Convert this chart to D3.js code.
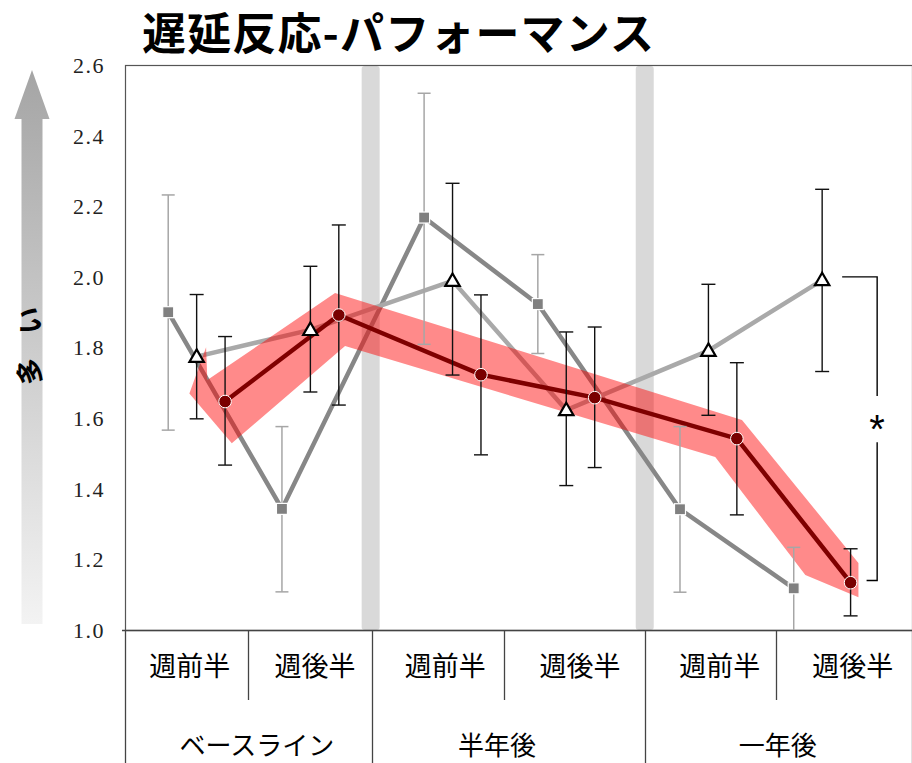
<!DOCTYPE html>
<html><head><meta charset="utf-8">
<script src="https://cdn.jsdelivr.net/npm/d3@7"></script>
<style>
html,body{margin:0;padding:0;background:#fff;}
svg{display:block;}
</style></head>
<body>
<svg id="chart" width="912" height="763"></svg>
<script>
// ---- data ----
const title = '遅延反応-パフォーマンス';
const arrowLabel = '多い';
const xIdx = [0, 1, 2.25, 3.25, 4.5, 5.5];
const subLabels = ['週前半', '週後半', '週前半', '週後半', '週前半', '週後半'];
const subLabelIdx = [-0.06, 1.04, 2.185, 3.37, 4.6, 5.77];
const groupLabels = ['ベースライン', '半年後', '一年後'];
const groupLabelIdx = [0.53, 2.64, 5.11];
const groupDividers = [-0.63, 1.545, 3.94, 6.29];
const subDividers = [0.455, 2.705, 5.09];
const separatorIdx = [1.53, 3.94];
const yTicks = [1.0, 1.2, 1.4, 1.6, 1.8, 2.0, 2.2, 2.4, 2.6];

const squareVals = [1.900, 1.343, 2.168, 1.923, 1.342, 1.118];
const squareHi   = [2.232, 1.576, 2.520, 2.063, 1.576, 1.234];
const squareLo   = [1.566, 1.108, 1.809, 1.783, 1.107, 1.000];

const triVals = [1.774, 1.850, 1.989, 1.623, 1.791, 1.991];
const triHi   = [1.950, 2.030, 2.265, 1.844, 1.979, 2.248];
const triLo   = [1.598, 1.674, 1.722, 1.409, 1.608, 1.732];

const circVals = [1.647, 1.892, 1.723, 1.658, 1.542, 1.134];
const circHi   = [1.831, 2.147, 1.949, 1.858, 1.757, 1.230];
const circLo   = [1.467, 1.637, 1.496, 1.460, 1.326, 1.040];

// highlight band outline (index, value)
const bandIdx  = [0.083, 0.094, 1.217, 4.795, 5.819, 5.819, 5.352, 4.560, 1.305, 0.309, -0.064];
const bandVals = [1.801, 1.708, 1.954, 1.595, 1.190, 1.093, 1.156, 1.490, 1.804, 1.529, 1.670];

// significance bracket between triangle and circle at last point
const sigTop = 2.0, sigBottom = 1.14, sigGapTop = 1.663, sigGapBottom = 1.532, sigLabel = '*';

// ---- layout ----
const svg = d3.select('#chart');
const L = 125, R = 912, T = 65, B = 630;
const x = d3.scaleLinear().domain([-0.63, 6.29]).range([L, R]);
const y = d3.scaleLinear().domain([1.0, 2.6]).range([B, T]);
const off = 0.25;

// title
svg.append('text').attr('x', 142).attr('y', 50)
  .attr('font-family', '"Noto Sans CJK JP", sans-serif').attr('font-weight', 'bold')
  .attr('font-size', 44).attr('textLength', 512).attr('lengthAdjust', 'spacing')
  .attr('fill', '#000').text(title);

// arrow gradient
const defs = svg.append('defs');
const grad = defs.append('linearGradient').attr('id', 'ag').attr('x1', 0).attr('y1', 0).attr('x2', 0).attr('y2', 1);
grad.append('stop').attr('offset', '0%').attr('stop-color', '#a5a5a5');
grad.append('stop').attr('offset', '100%').attr('stop-color', '#f3f3f3');
const ax = 32;
svg.append('path')
  .attr('d', `M${ax},70 L${ax+17.5},119 L${ax+10.5},119 L${ax+10.5},624 L${ax-10.5},624 L${ax-10.5},119 L${ax-17.5},119 Z`)
  .attr('fill', 'url(#ag)');
svg.append('text').attr('transform', 'translate(28,346) rotate(-90)')
  .attr('text-anchor', 'middle').attr('dominant-baseline', 'central')
  .attr('font-family', '"Noto Sans CJK JP", sans-serif').attr('font-weight', 'bold')
  .attr('font-size', 27).attr('textLength', 78).attr('lengthAdjust', 'spacing')
  .text(arrowLabel);

// y tick labels
svg.append('g').selectAll('text').data(yTicks).join('text')
  .attr('x', 105).attr('y', d => y(d)).attr('dy', '0.36em')
  .attr('text-anchor', 'end')
  .attr('font-family', '"Liberation Serif", "DejaVu Serif", serif')
  .attr('font-size', 22).attr('letter-spacing', 1.5).attr('fill', '#222')
  .text(d => d.toFixed(1));

// separators (gray vertical bands)
svg.append('g').selectAll('rect').data(separatorIdx).join('rect')
  .attr('x', d => x(d) - 9).attr('y', T + 1).attr('width', 18).attr('height', B - T - 1)
  .attr('rx', 3).attr('fill', '#d9d9d9');

// plot box
svg.append('rect').attr('x', L + 0.5).attr('y', T + 0.5).attr('width', R - L).attr('height', B - T)
  .attr('fill', 'none').attr('stroke', '#555').attr('stroke-width', 1.2);

// category axis
const cat = svg.append('g').attr('stroke', '#444').attr('stroke-width', 1.3);
cat.append('line').attr('x1', L - 3).attr('x2', R).attr('y1', B + 0.5).attr('y2', B + 0.5);
cat.selectAll('line.gd').data(groupDividers).join('line').attr('class', 'gd')
  .attr('x1', d => Math.round(x(d)) + 0.5).attr('x2', d => Math.round(x(d)) + 0.5)
  .attr('y1', B).attr('y2', 763);
cat.selectAll('line.sd').data(subDividers).join('line').attr('class', 'sd')
  .attr('x1', d => Math.round(x(d)) + 0.5).attr('x2', d => Math.round(x(d)) + 0.5)
  .attr('y1', B).attr('y2', 700);

svg.append('g').selectAll('text').data(subLabels).join('text')
  .attr('x', (d, i) => x(subLabelIdx[i])).attr('y', 664).attr('dominant-baseline', 'central')
  .attr('text-anchor', 'middle').attr('font-family', '"Noto Sans CJK JP", sans-serif')
  .attr('font-size', 27).attr('fill', '#000').text(d => d);
svg.append('g').selectAll('text').data(groupLabels).join('text')
  .attr('x', (d, i) => x(groupLabelIdx[i])).attr('y', 743).attr('dominant-baseline', 'central')
  .attr('text-anchor', 'middle').attr('font-family', '"Noto Sans CJK JP", sans-serif')
  .attr('font-size', 26).attr('fill', '#000').text(d => d);

// series lines
const line = d3.line().x(d => x(d[0])).y(d => y(d[1]));
const sqPts = squareVals.map((v, i) => [xIdx[i] - off, v]);
const trPts = triVals.map((v, i) => [xIdx[i], v]);
const ciPts = circVals.map((v, i) => [xIdx[i] + off, v]);

svg.append('path').attr('d', line(sqPts)).attr('fill', 'none')
  .attr('stroke', '#878787').attr('stroke-width', 4.5);
svg.append('path').attr('d', line(trPts)).attr('fill', 'none')
  .attr('stroke', '#a9a9a9').attr('stroke-width', 4.5);

// highlight band
svg.append('path').attr('d', line(bandIdx.map((v, i) => [v, bandVals[i]])) + 'Z')
  .attr('fill', '#ff0000').attr('fill-opacity', 0.46).attr('stroke', 'none');

svg.append('path').attr('d', line(ciPts)).attr('fill', 'none')
  .attr('stroke', '#7f0000').attr('stroke-width', 4.5);

// error bars
function errBars(pts, hi, lo, color, w, cap) {
  const g = svg.append('g').attr('stroke', color).attr('stroke-width', w).attr('fill', 'none');
  pts.forEach((p, i) => {
    const cx = x(p[0]);
    g.append('line').attr('x1', cx).attr('x2', cx).attr('y1', y(hi[i])).attr('y2', y(lo[i]));
    [hi[i], lo[i]].forEach(v => {
      if (v > 1.0) g.append('line').attr('x1', cx - cap).attr('x2', cx + cap).attr('y1', y(v)).attr('y2', y(v));
    });
  });
}
errBars(sqPts, squareHi, squareLo, '#a6a6a6', 1.5, 6.5);
errBars(trPts, triHi, triLo, '#111', 1.4, 7);
errBars(ciPts, circHi, circLo, '#111', 1.4, 7);

// markers
svg.append('g').selectAll('rect').data(sqPts).join('rect')
  .attr('x', d => x(d[0]) - 5.5).attr('y', d => y(d[1]) - 5.5).attr('width', 11).attr('height', 11)
  .attr('fill', '#808080').attr('stroke', '#fff').attr('stroke-width', 1.2);
const tri = d3.symbol().type(d3.symbolTriangle).size(90);
svg.append('g').selectAll('path').data(trPts).join('path')
  .attr('transform', d => `translate(${x(d[0])},${y(d[1]) + 1})`)
  .attr('d', tri).attr('fill', '#fff').attr('stroke', '#000').attr('stroke-width', 2.2);
svg.append('g').selectAll('circle').data(ciPts).join('circle')
  .attr('cx', d => x(d[0])).attr('cy', d => y(d[1])).attr('r', 6.3)
  .attr('fill', '#7a0000').attr('stroke', '#fff').attr('stroke-width', 1);

// significance bracket
const bx = x(xIdx[5]) + 55;
const sg = svg.append('g').attr('stroke', '#000').attr('stroke-width', 1.4).attr('fill', 'none');
sg.append('path').attr('d', `M${x(xIdx[5]) + 20},${y(sigTop)} H${bx} V${y(sigGapTop)}`);
sg.append('path').attr('d', `M${x(xIdx[5] + off) + 16},${y(sigBottom)} H${bx} V${y(sigGapBottom)}`);
svg.append('text').attr('x', bx).attr('y', (y(sigGapTop) + y(sigGapBottom)) / 2 + 24).attr('text-anchor', 'middle')
  .attr('font-family', '"Liberation Sans", sans-serif').attr('font-size', 40).text(sigLabel);
</script>
</body></html>
